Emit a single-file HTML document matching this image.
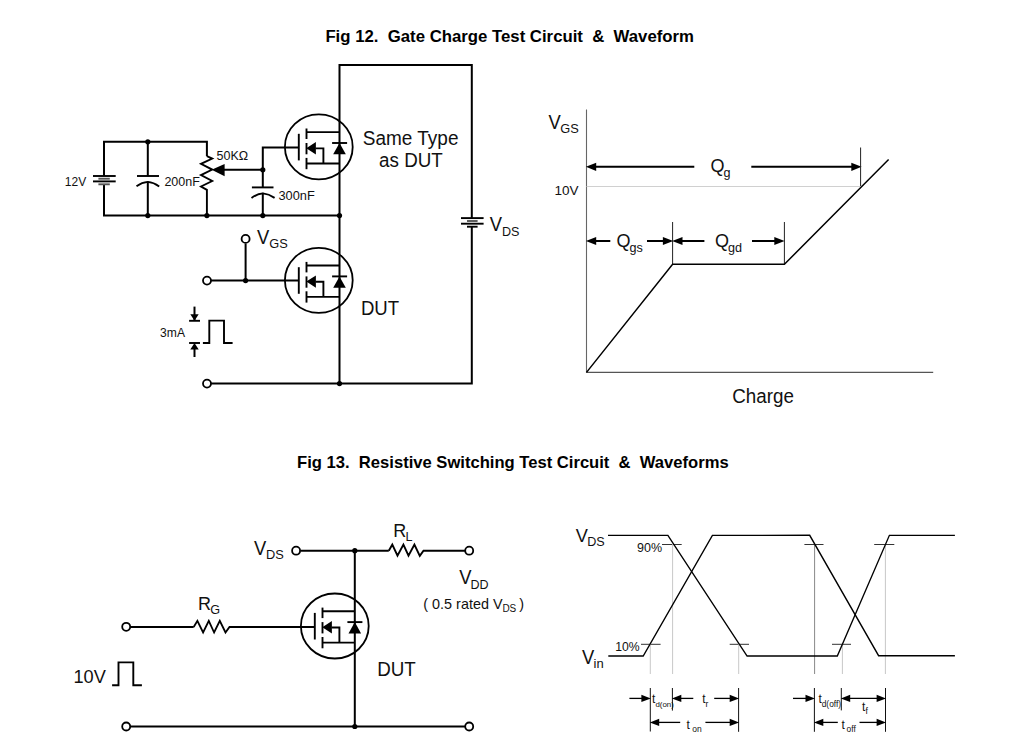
<!DOCTYPE html><html><head><meta charset="utf-8"><style>html,body{margin:0;padding:0;background:#fff;width:1017px;height:747px;overflow:hidden}svg{display:block}text{font-family:"Liberation Sans",sans-serif}</style></head><body>
<svg width="1017" height="747" viewBox="0 0 1017 747">
<rect width="1017" height="747" fill="#fff"/>
<text x="325.4" y="41.8" font-size="16.76" font-weight="bold" fill="#000" >Fig 12.&#160; Gate Charge Test Circuit&#160; &amp;&#160; Waveform</text>
<text x="297.1" y="468.3" font-size="16.6" font-weight="bold" fill="#000" >Fig 13.&#160; Resistive Switching Test Circuit&#160; &amp;&#160; Waveforms</text>
<polyline points="339.5,384 339.5,65.1 471.8,65.1 471.8,218.1" fill="none" stroke="#000" stroke-width="2" stroke-linejoin="miter"/>
<polyline points="471.8,226.7 471.8,383.6 207,383.6" fill="none" stroke="#000" stroke-width="2" stroke-linejoin="miter"/>
<line x1="461" y1="218.1" x2="483.6" y2="218.1" stroke="#000" stroke-width="1.9"/>
<line x1="461" y1="223.7" x2="483.6" y2="223.7" stroke="#000" stroke-width="1.9"/>
<line x1="467" y1="221" x2="477.6" y2="221" stroke="#555" stroke-width="1.9"/>
<line x1="467" y1="226.7" x2="477.6" y2="226.7" stroke="#000" stroke-width="1.9"/>
<polyline points="104,176 104,141.8 206.9,141.8 206.9,156.2" fill="none" stroke="#000" stroke-width="2" stroke-linejoin="miter"/>
<polyline points="104,184.3 104,215.6 339.5,215.6" fill="none" stroke="#000" stroke-width="2" stroke-linejoin="miter"/>
<line x1="93" y1="176" x2="115.7" y2="176" stroke="#000" stroke-width="1.9"/>
<line x1="93" y1="181.4" x2="115.7" y2="181.4" stroke="#000" stroke-width="1.9"/>
<line x1="98.4" y1="178.7" x2="109.8" y2="178.7" stroke="#555" stroke-width="1.9"/>
<line x1="98.4" y1="184.3" x2="109.8" y2="184.3" stroke="#555" stroke-width="1.9"/>
<line x1="147.8" y1="141.8" x2="147.8" y2="176" stroke="#000" stroke-width="2"/>
<line x1="137" y1="176" x2="159" y2="176" stroke="#000" stroke-width="1.9"/>
<path d="M136.5,186.2 Q142,182.3 147.8,181.9 Q153.6,182.3 159.2,186.4" fill="none" stroke="#000" stroke-width="1.9"/>
<line x1="147.8" y1="181.6" x2="147.8" y2="215.6" stroke="#000" stroke-width="2"/>
<polyline points="206.9,156.2 212.2,158.6 201,163.9 212.2,169.6 201,175.1 212.2,181 201,186.5 206.9,189.9 206.9,215.6" fill="none" stroke="#000" stroke-width="1.9" stroke-linejoin="miter"/>
<polygon points="211.6,169.8 224.6,163.9 224.6,176.3" fill="#000"/>
<line x1="224" y1="169.8" x2="262.8" y2="169.8" stroke="#000" stroke-width="2"/>
<polyline points="262.8,169.8 262.8,147.6 299,147.6" fill="none" stroke="#000" stroke-width="2" stroke-linejoin="miter"/>
<line x1="262.8" y1="169.8" x2="262.8" y2="187.4" stroke="#000" stroke-width="2"/>
<line x1="251.9" y1="187.4" x2="273.5" y2="187.4" stroke="#000" stroke-width="1.9"/>
<path d="M251.5,197.9 Q257,193.9 262.9,193.4 Q268.8,193.9 274.6,197.9" fill="none" stroke="#000" stroke-width="1.9"/>
<line x1="262.8" y1="192.8" x2="262.8" y2="215.6" stroke="#000" stroke-width="2"/>
<circle cx="147.8" cy="141.8" r="2.6" fill="#000"/>
<circle cx="147.8" cy="215.6" r="2.6" fill="#000"/>
<circle cx="206.9" cy="215.6" r="2.6" fill="#000"/>
<circle cx="262.8" cy="215.6" r="2.6" fill="#000"/>
<circle cx="339.5" cy="215.6" r="2.6" fill="#000"/>
<circle cx="262.8" cy="169.8" r="2.6" fill="#000"/>
<ellipse cx="318.8" cy="146.9" rx="33.9" ry="32.5" fill="none" stroke="#000" stroke-width="1.8"/>
<line x1="298.8" y1="133.8" x2="298.8" y2="160.4" stroke="#000" stroke-width="1.9"/>
<line x1="306.5" y1="128.5" x2="306.5" y2="139.0" stroke="#000" stroke-width="1.9"/>
<line x1="306.5" y1="143.0" x2="306.5" y2="154.3" stroke="#000" stroke-width="1.9"/>
<line x1="306.5" y1="157.9" x2="306.5" y2="169.20000000000002" stroke="#000" stroke-width="1.9"/>
<line x1="306.5" y1="132.10000000000002" x2="339.5" y2="132.10000000000002" stroke="#000" stroke-width="1.9"/>
<line x1="306.5" y1="163.5" x2="339.5" y2="163.5" stroke="#000" stroke-width="1.9"/>
<polygon points="306.3,148.20000000000002 315.9,142.0 315.9,154.4" fill="#000"/>
<polyline points="315.5,148.4 323.40000000000003,148.4 323.40000000000003,163.5" fill="none" stroke="#000" stroke-width="1.9" stroke-linejoin="miter"/>
<line x1="332.1" y1="143.0" x2="347.1" y2="143.0" stroke="#000" stroke-width="1.9"/>
<polygon points="339.5,143.0 333.2,154.3 345.8,154.3" fill="#000"/>
<line x1="207" y1="280.6" x2="299" y2="280.6" stroke="#000" stroke-width="2"/>
<line x1="245.6" y1="243.5" x2="245.6" y2="280.6" stroke="#000" stroke-width="2"/>
<circle cx="245.6" cy="280.6" r="2.6" fill="#000"/>
<circle cx="245.6" cy="238.9" r="4.0" fill="#fff" stroke="#000" stroke-width="1.8"/>
<circle cx="207" cy="280.6" r="4.0" fill="#fff" stroke="#000" stroke-width="1.8"/>
<ellipse cx="318.8" cy="280.3" rx="33.9" ry="32.5" fill="none" stroke="#000" stroke-width="1.8"/>
<line x1="298.8" y1="267.2" x2="298.8" y2="293.8" stroke="#000" stroke-width="1.9"/>
<line x1="306.5" y1="261.9" x2="306.5" y2="272.4" stroke="#000" stroke-width="1.9"/>
<line x1="306.5" y1="276.4" x2="306.5" y2="287.7" stroke="#000" stroke-width="1.9"/>
<line x1="306.5" y1="291.3" x2="306.5" y2="302.59999999999997" stroke="#000" stroke-width="1.9"/>
<line x1="306.5" y1="265.5" x2="339.5" y2="265.5" stroke="#000" stroke-width="1.9"/>
<line x1="306.5" y1="296.9" x2="339.5" y2="296.9" stroke="#000" stroke-width="1.9"/>
<polygon points="306.3,281.59999999999997 315.9,275.4 315.9,287.8" fill="#000"/>
<polyline points="315.5,281.8 323.40000000000003,281.8 323.40000000000003,296.9" fill="none" stroke="#000" stroke-width="1.9" stroke-linejoin="miter"/>
<line x1="332.1" y1="276.4" x2="347.1" y2="276.4" stroke="#000" stroke-width="1.9"/>
<polygon points="339.5,276.4 333.2,287.7 345.8,287.7" fill="#000"/>
<circle cx="207" cy="383.6" r="4.0" fill="#fff" stroke="#000" stroke-width="1.8"/>
<circle cx="339.5" cy="383.6" r="2.6" fill="#000"/>
<line x1="194.5" y1="306.6" x2="194.5" y2="320" stroke="#000" stroke-width="2"/>
<polygon points="190.3,314.2 198.7,314.2 194.5,320.8" fill="#000"/>
<line x1="189.1" y1="320.8" x2="200" y2="320.8" stroke="#000" stroke-width="1.9"/>
<line x1="189.1" y1="343" x2="200" y2="343" stroke="#000" stroke-width="1.9"/>
<polygon points="194.5,343 190.3,349.6 198.7,349.6" fill="#000"/>
<line x1="194.5" y1="349" x2="194.5" y2="357" stroke="#000" stroke-width="2"/>
<polyline points="202.9,343 209.3,343 209.3,320.6 224,320.6 224,343 232.6,343" fill="none" stroke="#000" stroke-width="1.9" stroke-linejoin="miter"/>
<text x="64.8" y="186.2" font-size="12" font-weight="normal" fill="#111" >12V</text>
<text x="164.4" y="185.7" font-size="12.5" font-weight="normal" fill="#111" >200nF</text>
<text x="216.5" y="160.4" font-size="12.5" font-weight="normal" fill="#111" >50KΩ</text>
<text x="278.5" y="199.7" font-size="12.8" font-weight="normal" fill="#111" >300nF</text>
<text transform="translate(362.8,145.0) scale(1,1.06)" font-size="19.0" font-weight="normal" fill="#111" >Same Type</text>
<text transform="translate(379.1,167.4) scale(1,1.06)" font-size="18.8" font-weight="normal" fill="#111" >as DUT</text>
<text transform="translate(489.8,231) scale(1,1.06)" font-size="18.4" font-weight="normal" fill="#111" >V</text>
<text x="502" y="235.9" font-size="12.6" font-weight="normal" fill="#111" >DS</text>
<text transform="translate(257,243.7) scale(1,1.06)" font-size="18.4" font-weight="normal" fill="#111" >V</text>
<text x="269.2" y="247.5" font-size="12.8" font-weight="normal" fill="#111" >GS</text>
<text transform="translate(360.9,314.8) scale(1,1.06)" font-size="18.6" font-weight="normal" fill="#111" >DUT</text>
<text x="160.1" y="336.6" font-size="12.1" font-weight="normal" fill="#111" >3mA</text>
<line x1="586.5" y1="109.6" x2="586.5" y2="372.9" stroke="#666" stroke-width="1.1"/>
<line x1="586.5" y1="372.4" x2="933.2" y2="372.4" stroke="#555" stroke-width="1.2"/>
<line x1="586.5" y1="186.5" x2="860.6" y2="186.5" stroke="#d0d0d0" stroke-width="1"/>
<polygon points="585.9,166.8 596.1999999999999,162.70000000000002 596.1999999999999,170.9" fill="#000"/>
<line x1="591.5" y1="166.8" x2="694.3" y2="166.8" stroke="#000" stroke-width="2"/>
<polygon points="861.6,166.8 851.3000000000001,162.70000000000002 851.3000000000001,170.9" fill="#000"/>
<line x1="751.3" y1="166.8" x2="856" y2="166.8" stroke="#000" stroke-width="2"/>
<line x1="860.6" y1="147.5" x2="860.6" y2="186" stroke="#222" stroke-width="1"/>
<line x1="672.6" y1="222" x2="672.6" y2="264.3" stroke="#222" stroke-width="1"/>
<line x1="784.4" y1="222" x2="784.4" y2="264.3" stroke="#222" stroke-width="1"/>
<polygon points="585.9,241 596.1999999999999,236.9 596.1999999999999,245.1" fill="#000"/>
<line x1="591.5" y1="241" x2="610.3" y2="241" stroke="#000" stroke-width="2"/>
<polygon points="673.2,241 662.9000000000001,236.9 662.9000000000001,245.1" fill="#000"/>
<line x1="647" y1="241" x2="668" y2="241" stroke="#000" stroke-width="2"/>
<polygon points="672.2,241 682.5,236.9 682.5,245.1" fill="#000"/>
<line x1="678" y1="241" x2="704.4" y2="241" stroke="#000" stroke-width="2"/>
<polygon points="784.6,241 774.3000000000001,236.9 774.3000000000001,245.1" fill="#000"/>
<line x1="752" y1="241" x2="779" y2="241" stroke="#000" stroke-width="2"/>
<polyline points="586.5,372.4 672.6,264.3 784.4,264.3 888.6,159.5" fill="none" stroke="#000" stroke-width="1.5" stroke-linejoin="miter"/>
<text transform="translate(548.6,128.9) scale(1,1.06)" font-size="18.4" font-weight="normal" fill="#111" >V</text>
<text x="560.3" y="133" font-size="12.8" font-weight="normal" fill="#111" >GS</text>
<text x="554.4" y="195.1" font-size="13.5" font-weight="normal" fill="#111" >10V</text>
<text transform="translate(710.5,172.3) scale(1,1.06)" font-size="18" font-weight="normal" fill="#111" >Q</text>
<text x="723.6" y="176.5" font-size="12.6" font-weight="normal" fill="#111" >g</text>
<text transform="translate(616.4,247.4) scale(1,1.06)" font-size="18" font-weight="normal" fill="#111" >Q</text>
<text x="629.5" y="251.6" font-size="12.6" font-weight="normal" fill="#111" >gs</text>
<text transform="translate(715,247.4) scale(1,1.06)" font-size="18" font-weight="normal" fill="#111" >Q</text>
<text x="728.1" y="251.6" font-size="12.6" font-weight="normal" fill="#111" >gd</text>
<text transform="translate(732.3,403.1) scale(1,1.06)" font-size="18.8" font-weight="normal" fill="#111" >Charge</text>
<line x1="300.5" y1="550.7" x2="388.8" y2="550.7" stroke="#000" stroke-width="2"/>
<polyline points="388.8,550.7 392.3,544.6 397.5,555.6 403.4,544.6 408.5,555.6 414.4,544.6 419.8,555.8 423.5,550.7 465,550.7" fill="none" stroke="#000" stroke-width="1.9" stroke-linejoin="miter"/>
<circle cx="296.1" cy="550.7" r="4.0" fill="#fff" stroke="#000" stroke-width="1.8"/>
<circle cx="469.2" cy="550.7" r="4.0" fill="#fff" stroke="#000" stroke-width="1.8"/>
<line x1="354.8" y1="550.7" x2="354.8" y2="726.5" stroke="#000" stroke-width="2"/>
<circle cx="354.8" cy="550.7" r="2.6" fill="#000"/>
<circle cx="354.8" cy="726.5" r="2.6" fill="#000"/>
<line x1="130" y1="627" x2="193.7" y2="627" stroke="#000" stroke-width="1.8"/>
<polyline points="193.7,627 197.4,620.8 203.1,632.5 208.8,620.8 214.1,632.5 219.8,620.8 225.5,632.5 229.5,627 315,627" fill="none" stroke="#000" stroke-width="1.8" stroke-linejoin="miter"/>
<circle cx="126.2" cy="626.8" r="4.0" fill="#fff" stroke="#000" stroke-width="1.8"/>
<ellipse cx="334.8" cy="626.0" rx="33.9" ry="32.5" fill="none" stroke="#000" stroke-width="1.8"/>
<line x1="314.8" y1="612.9" x2="314.8" y2="639.5" stroke="#000" stroke-width="1.9"/>
<line x1="322.5" y1="607.6" x2="322.5" y2="618.1" stroke="#000" stroke-width="1.9"/>
<line x1="322.5" y1="622.1" x2="322.5" y2="633.4" stroke="#000" stroke-width="1.9"/>
<line x1="322.5" y1="637.0" x2="322.5" y2="648.3" stroke="#000" stroke-width="1.9"/>
<line x1="322.5" y1="611.1999999999999" x2="354.8" y2="611.1999999999999" stroke="#000" stroke-width="1.9"/>
<line x1="322.5" y1="642.6" x2="354.8" y2="642.6" stroke="#000" stroke-width="1.9"/>
<polygon points="322.3,627.3 331.9,621.1 331.9,633.5" fill="#000"/>
<polyline points="331.5,627.5 339.40000000000003,627.5 339.40000000000003,642.6" fill="none" stroke="#000" stroke-width="1.9" stroke-linejoin="miter"/>
<line x1="347.40000000000003" y1="622.1" x2="362.40000000000003" y2="622.1" stroke="#000" stroke-width="1.9"/>
<polygon points="354.8,622.1 348.5,633.4 361.1,633.4" fill="#000"/>
<line x1="130" y1="726.5" x2="465" y2="726.5" stroke="#000" stroke-width="2"/>
<circle cx="126.2" cy="726.5" r="4.0" fill="#fff" stroke="#000" stroke-width="1.8"/>
<circle cx="469.2" cy="726.5" r="4.0" fill="#fff" stroke="#000" stroke-width="1.8"/>
<polyline points="112.1,685.2 118.5,685.2 118.5,662.4 133.3,662.4 133.3,685.2 141.9,685.2" fill="none" stroke="#000" stroke-width="1.9" stroke-linejoin="miter"/>
<text transform="translate(253.9,555.1) scale(1,1.06)" font-size="18.4" font-weight="normal" fill="#111" >V</text>
<text x="266" y="559.2" font-size="12.8" font-weight="normal" fill="#111" >DS</text>
<text transform="translate(393.2,536.7) scale(1,1.06)" font-size="18" font-weight="normal" fill="#111" >R</text>
<text x="405.6" y="541.4" font-size="12.6" font-weight="normal" fill="#111" >L</text>
<text transform="translate(459.2,583.9) scale(1,1.06)" font-size="18.4" font-weight="normal" fill="#111" >V</text>
<text x="470.6" y="588.6" font-size="12.5" font-weight="normal" fill="#111" >DD</text>
<text x="423.3" y="608.5" font-size="14.4" font-weight="normal" fill="#111" >( 0.5 rated V</text>
<text x="502.4" y="612.4" font-size="10" font-weight="normal" fill="#111" >DS</text>
<text x="519.2" y="608.5" font-size="14.4" font-weight="normal" fill="#111" >)</text>
<text transform="translate(198,609.8) scale(1,1.06)" font-size="18" font-weight="normal" fill="#111" >R</text>
<text x="210.2" y="614.4" font-size="12.6" font-weight="normal" fill="#111" >G</text>
<text transform="translate(73.5,683.2) scale(1,1.06)" font-size="18.2" font-weight="normal" fill="#111" >10V</text>
<text transform="translate(377.2,675.8) scale(1,1.06)" font-size="18.8" font-weight="normal" fill="#111" >DUT</text>
<line x1="662" y1="544.5" x2="681.7" y2="544.5" stroke="#333" stroke-width="1"/>
<line x1="804.4" y1="544.5" x2="823.5" y2="544.5" stroke="#333" stroke-width="1"/>
<line x1="874.2" y1="544.5" x2="894.3" y2="544.5" stroke="#333" stroke-width="1"/>
<line x1="641" y1="644.3" x2="660.6" y2="644.3" stroke="#333" stroke-width="1"/>
<line x1="729.7" y1="644.3" x2="749" y2="644.3" stroke="#333" stroke-width="1"/>
<line x1="832" y1="644.3" x2="851" y2="644.3" stroke="#333" stroke-width="1"/>
<line x1="650.3" y1="644" x2="650.3" y2="674" stroke="#c8c8c8" stroke-width="1"/>
<line x1="672.6" y1="544" x2="672.6" y2="674" stroke="#c8c8c8" stroke-width="1"/>
<line x1="738.7" y1="644" x2="738.7" y2="674" stroke="#c8c8c8" stroke-width="1"/>
<line x1="842.4" y1="644" x2="842.4" y2="674" stroke="#c8c8c8" stroke-width="1"/>
<line x1="885.4" y1="544" x2="885.4" y2="674" stroke="#c8c8c8" stroke-width="1"/>
<line x1="814.6" y1="544" x2="814.6" y2="674" stroke="#888" stroke-width="1"/>
<polyline points="608,535.4 667.9,535.4 747.1,656 837.3,656 889.4,535.3 954.9,535.3" fill="none" stroke="#000" stroke-width="1.35" stroke-linejoin="miter"/>
<polyline points="608.3,656 643.2,656 712.4,535.4 809.7,535.3 878.6,655.7 954.9,655.7" fill="none" stroke="#000" stroke-width="1.35" stroke-linejoin="miter"/>
<line x1="650.3" y1="688" x2="650.3" y2="731.5" stroke="#111" stroke-width="1"/>
<line x1="672.4" y1="688" x2="672.4" y2="710.6" stroke="#111" stroke-width="1"/>
<line x1="738.6" y1="688" x2="738.6" y2="731.8" stroke="#111" stroke-width="1"/>
<line x1="814.4" y1="688" x2="814.4" y2="731.8" stroke="#111" stroke-width="1"/>
<line x1="841.3" y1="688" x2="841.3" y2="710.4" stroke="#111" stroke-width="1"/>
<line x1="885.5" y1="688" x2="885.5" y2="731.8" stroke="#111" stroke-width="1"/>
<line x1="629.4" y1="698.4" x2="645" y2="698.4" stroke="#000" stroke-width="1.3"/>
<polygon points="650.8,698.4 641.4,694.8 641.4,702.0" fill="#000"/>
<polygon points="671.9,698.4 681.3,694.8 681.3,702.0" fill="#000"/>
<line x1="676" y1="698.4" x2="693.3" y2="698.4" stroke="#000" stroke-width="1.3"/>
<line x1="714.2" y1="698.4" x2="734" y2="698.4" stroke="#000" stroke-width="1.3"/>
<polygon points="739.1,698.4 729.7,694.8 729.7,702.0" fill="#000"/>
<polygon points="649.8,722.4 659.1999999999999,718.8 659.1999999999999,726.0" fill="#000"/>
<line x1="655" y1="722.4" x2="680.2" y2="722.4" stroke="#000" stroke-width="1.3"/>
<line x1="705.4" y1="722.4" x2="734" y2="722.4" stroke="#000" stroke-width="1.3"/>
<polygon points="739.1,722.4 729.7,718.8 729.7,726.0" fill="#000"/>
<line x1="793" y1="698.4" x2="810" y2="698.4" stroke="#000" stroke-width="1.3"/>
<polygon points="814.9,698.4 805.5,694.8 805.5,702.0" fill="#000"/>
<polygon points="840.8,698.4 850.1999999999999,694.8 850.1999999999999,702.0" fill="#000"/>
<line x1="845" y1="698.4" x2="881" y2="698.4" stroke="#000" stroke-width="1.3"/>
<polygon points="886.0,698.4 876.6,694.8 876.6,702.0" fill="#000"/>
<polygon points="813.9,722.4 823.3,718.8 823.3,726.0" fill="#000"/>
<line x1="818" y1="722.4" x2="837.8" y2="722.4" stroke="#000" stroke-width="1.3"/>
<line x1="859.5" y1="722.4" x2="881" y2="722.4" stroke="#000" stroke-width="1.3"/>
<polygon points="886.0,722.4 876.6,718.8 876.6,726.0" fill="#000"/>
<text transform="translate(575.8,542) scale(1,1.06)" font-size="18.2" font-weight="normal" fill="#111" >V</text>
<text x="587.2" y="546" font-size="12.6" font-weight="normal" fill="#111" >DS</text>
<text x="637.1" y="552.3" font-size="12.5" font-weight="normal" fill="#111" >90%</text>
<text transform="translate(581.9,663.9) scale(1,1.06)" font-size="18.4" font-weight="normal" fill="#111" >V</text>
<text x="593.6" y="668.2" font-size="13" font-weight="normal" fill="#111" >in</text>
<text x="615.3" y="650.8" font-size="12.2" font-weight="normal" fill="#111" >10%</text>
<text x="651.9" y="702.8" font-size="12" font-weight="normal" fill="#111" >t</text>
<text x="655.4" y="707.2" font-size="7.9" font-weight="normal" fill="#111" >d(on)</text>
<text x="702.2" y="702.8" font-size="12" font-weight="normal" fill="#111" >t</text>
<text x="705.6" y="706.8" font-size="8.5" font-weight="normal" fill="#111" >r</text>
<text x="686.5" y="728.8" font-size="12" font-weight="normal" fill="#111" >t</text>
<text x="692.2" y="731.5" font-size="8.5" font-weight="normal" fill="#111" >on</text>
<text x="818.6" y="703.2" font-size="12" font-weight="normal" fill="#111" >t</text>
<text x="821.7" y="707.1" font-size="8.4" font-weight="normal" fill="#111" >d(off)</text>
<text x="862.1" y="711" font-size="12" font-weight="normal" fill="#111" >t</text>
<text x="865.5" y="713.6" font-size="8.5" font-weight="normal" fill="#111" >f</text>
<text x="841.6" y="728.6" font-size="12" font-weight="normal" fill="#111" >t</text>
<text x="846.6" y="731.6" font-size="8.4" font-weight="normal" fill="#111" >off</text>
</svg></body></html>
